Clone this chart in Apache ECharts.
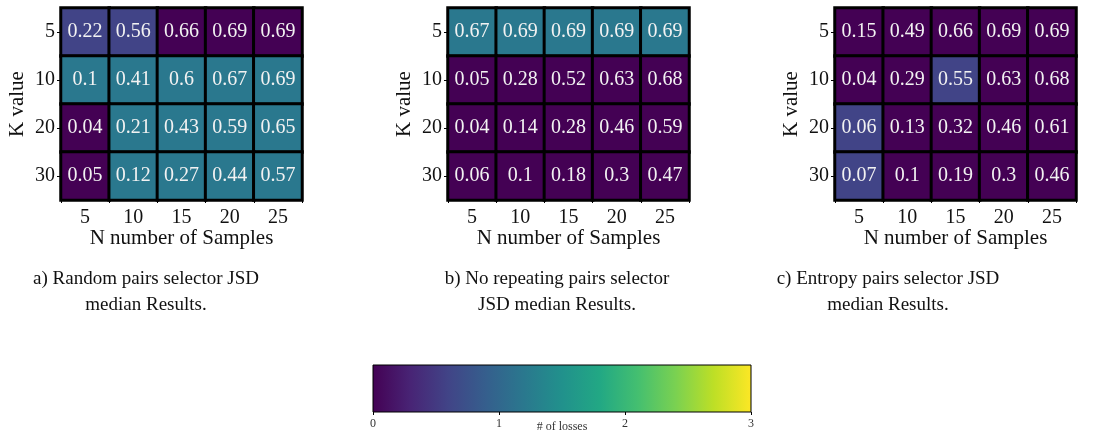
<!DOCTYPE html>
<html>
<head>
<meta charset="utf-8">
<script src="https://cdn.jsdelivr.net/npm/echarts@6/dist/echarts.min.js"></script>
<style>
  html, body { margin: 0; padding: 0; background: #fff; }
  #chart { width: 1111px; height: 431px; }
</style>
</head>
<body>
<div id="chart"></div>
<script>
// Axis categories
const nSamples = ['5', '10', '15', '20', '25'];
const kValues = ['5', '10', '20', '30'];

// JSD medians, rows = K value, columns = N number of samples
const jsdRandom = [
  [0.22, 0.56, 0.66, 0.69, 0.69],
  [0.1, 0.41, 0.6, 0.67, 0.69],
  [0.04, 0.21, 0.43, 0.59, 0.65],
  [0.05, 0.12, 0.27, 0.44, 0.57]
];
const jsdNoRepeat = [
  [0.67, 0.69, 0.69, 0.69, 0.69],
  [0.05, 0.28, 0.52, 0.63, 0.68],
  [0.04, 0.14, 0.28, 0.46, 0.59],
  [0.06, 0.1, 0.18, 0.3, 0.47]
];
const jsdEntropy = [
  [0.15, 0.49, 0.66, 0.69, 0.69],
  [0.04, 0.29, 0.55, 0.63, 0.68],
  [0.06, 0.13, 0.32, 0.46, 0.61],
  [0.07, 0.1, 0.19, 0.3, 0.46]
];

// Number of losses per cell (drives cell colour)
const lossRandom = [
  [1, 1, 0, 0, 0],
  [2, 2, 2, 2, 2],
  [0, 2, 2, 2, 2],
  [0, 2, 2, 2, 2]
];
const lossNoRepeat = [
  [2, 2, 2, 2, 2],
  [0, 0, 0, 0, 0],
  [0, 0, 0, 0, 0],
  [0, 0, 0, 0, 0]
];
const lossEntropy = [
  [0, 0, 0, 0, 0],
  [0, 0, 1, 0, 0],
  [1, 0, 0, 0, 0],
  [1, 0, 0, 0, 0]
];

const captions = [
  'a) Random pairs selector JSD\nmedian Results.',
  'b) No repeating pairs selector\nJSD median Results.',
  'c) Entropy pairs selector JSD\nmedian Results.'
];
const colorbarTicks = [0, 1, 2, 3];
const colorbarLabel = '# of losses';

const viridis = ['#440154', '#482475', '#414487', '#355f8d', '#2a788e', '#21918c',
                 '#22a884', '#44bf70', '#7ad151', '#bddf26', '#fde725'];

const SERIF = '"Liberation Serif", "DejaVu Serif", serif';

function cells(jsd, loss) {
  const out = [];
  jsd.forEach((row, r) => row.forEach((v, c) => out.push([c, r, v, loss[r][c]])));
  return out;
}

const panels = [
  { left: 61, jsd: jsdRandom, loss: lossRandom, capX: 146 },
  { left: 448, jsd: jsdNoRepeat, loss: lossNoRepeat, capX: 557 },
  { left: 835, jsd: jsdEntropy, loss: lossEntropy, capX: 888 }
];

const grid = panels.map(p => ({ left: p.left, top: 8, width: 241, height: 192, outerBoundsMode: 'none' }));
grid.push({ left: 373, top: 365, width: 378, height: 47, outerBoundsMode: 'none' });

const xAxis = panels.map((p, i) => ({
  type: 'category', gridIndex: i, data: nSamples,
  name: 'N number of Samples', nameLocation: 'middle', nameGap: 28, nameMoveOverlap: false,
  nameTextStyle: { fontFamily: SERIF, fontSize: 21, color: '#111' },
  axisLine: { show: false },
  axisTick: { show: true, length: 3, lineStyle: { color: '#000' } },
  axisLabel: { fontFamily: SERIF, fontSize: 20, color: '#111', margin: 8 },
  splitLine: { show: false }
}));
xAxis.push({
  type: 'value', gridIndex: 3, min: 0, max: 3, interval: 1,
  name: colorbarLabel, nameLocation: 'middle', nameGap: 9, nameMoveOverlap: false,
  nameTextStyle: { fontFamily: SERIF, fontSize: 12, color: '#333' },
  axisLine: { show: false },
  axisTick: { show: true, length: 3, lineStyle: { color: '#000' } },
  axisLabel: { fontFamily: SERIF, fontSize: 12, color: '#333', margin: 6,
               formatter: v => colorbarTicks.includes(v) ? String(v) : '' },
  splitLine: { show: false }
});

const yAxis = panels.map((p, i) => ({
  type: 'category', gridIndex: i, data: kValues, inverse: true,
  name: 'K value', nameLocation: 'middle', nameGap: 33, nameRotate: 90, nameMoveOverlap: false,
  nameTextStyle: { fontFamily: SERIF, fontSize: 21, color: '#111' },
  axisLine: { show: false },
  axisTick: { show: true, alignWithLabel: true, length: 4, lineStyle: { color: '#000' } },
  axisLabel: { fontFamily: SERIF, fontSize: 20, color: '#111', margin: 6 },
  splitLine: { show: false }
}));
yAxis.push({ type: 'value', gridIndex: 3, min: 0, max: 1, show: false });

const series = panels.map((p, i) => ({
  type: 'heatmap', xAxisIndex: i, yAxisIndex: i,
  data: cells(p.jsd, p.loss),
  encode: { x: 0, y: 1, value: 3 },
  itemStyle: { borderColor: '#000', borderWidth: 3 },
  label: {
    show: true, fontFamily: SERIF, fontSize: 20, color: '#f2f2f2',
    formatter: prm => String(prm.data[2])
  },
  emphasis: { disabled: true }
}));

// Colour bar drawn on its own value axis (0..3 losses)
series.push({
  type: 'custom', xAxisIndex: 3, yAxisIndex: 3, silent: true,
  data: [[colorbarTicks[0], colorbarTicks[colorbarTicks.length - 1]]],
  renderItem: (params, api) => {
    const p0 = api.coord([api.value(0), 0]);
    const p1 = api.coord([api.value(1), 1]);
    const stops = viridis.map((c, k) => ({ offset: k / (viridis.length - 1), color: c }));
    return {
      type: 'rect',
      shape: { x: p0[0], y: p1[1], width: p1[0] - p0[0], height: p0[1] - p1[1] },
      style: { fill: new echarts.graphic.LinearGradient(0, 0, 1, 0, stops),
               stroke: '#000', lineWidth: 1 }
    };
  }
});

const title = panels.map((p, i) => ({
  text: captions[i], left: p.capX, top: 266, textAlign: 'center', padding: 0,
  textStyle: { fontFamily: SERIF, fontSize: 19, fontWeight: 'normal', color: '#111', lineHeight: 26 }
}));

const chart = echarts.init(document.getElementById('chart'));
chart.setOption({
  animation: false,
  backgroundColor: '#fff',
  title,
  grid,
  xAxis,
  yAxis,
  visualMap: {
    show: false, type: 'continuous', seriesIndex: [0, 1, 2], dimension: 3,
    min: 0, max: 5, inRange: { color: viridis }
  },
  series
});
</script>
</body>
</html>
